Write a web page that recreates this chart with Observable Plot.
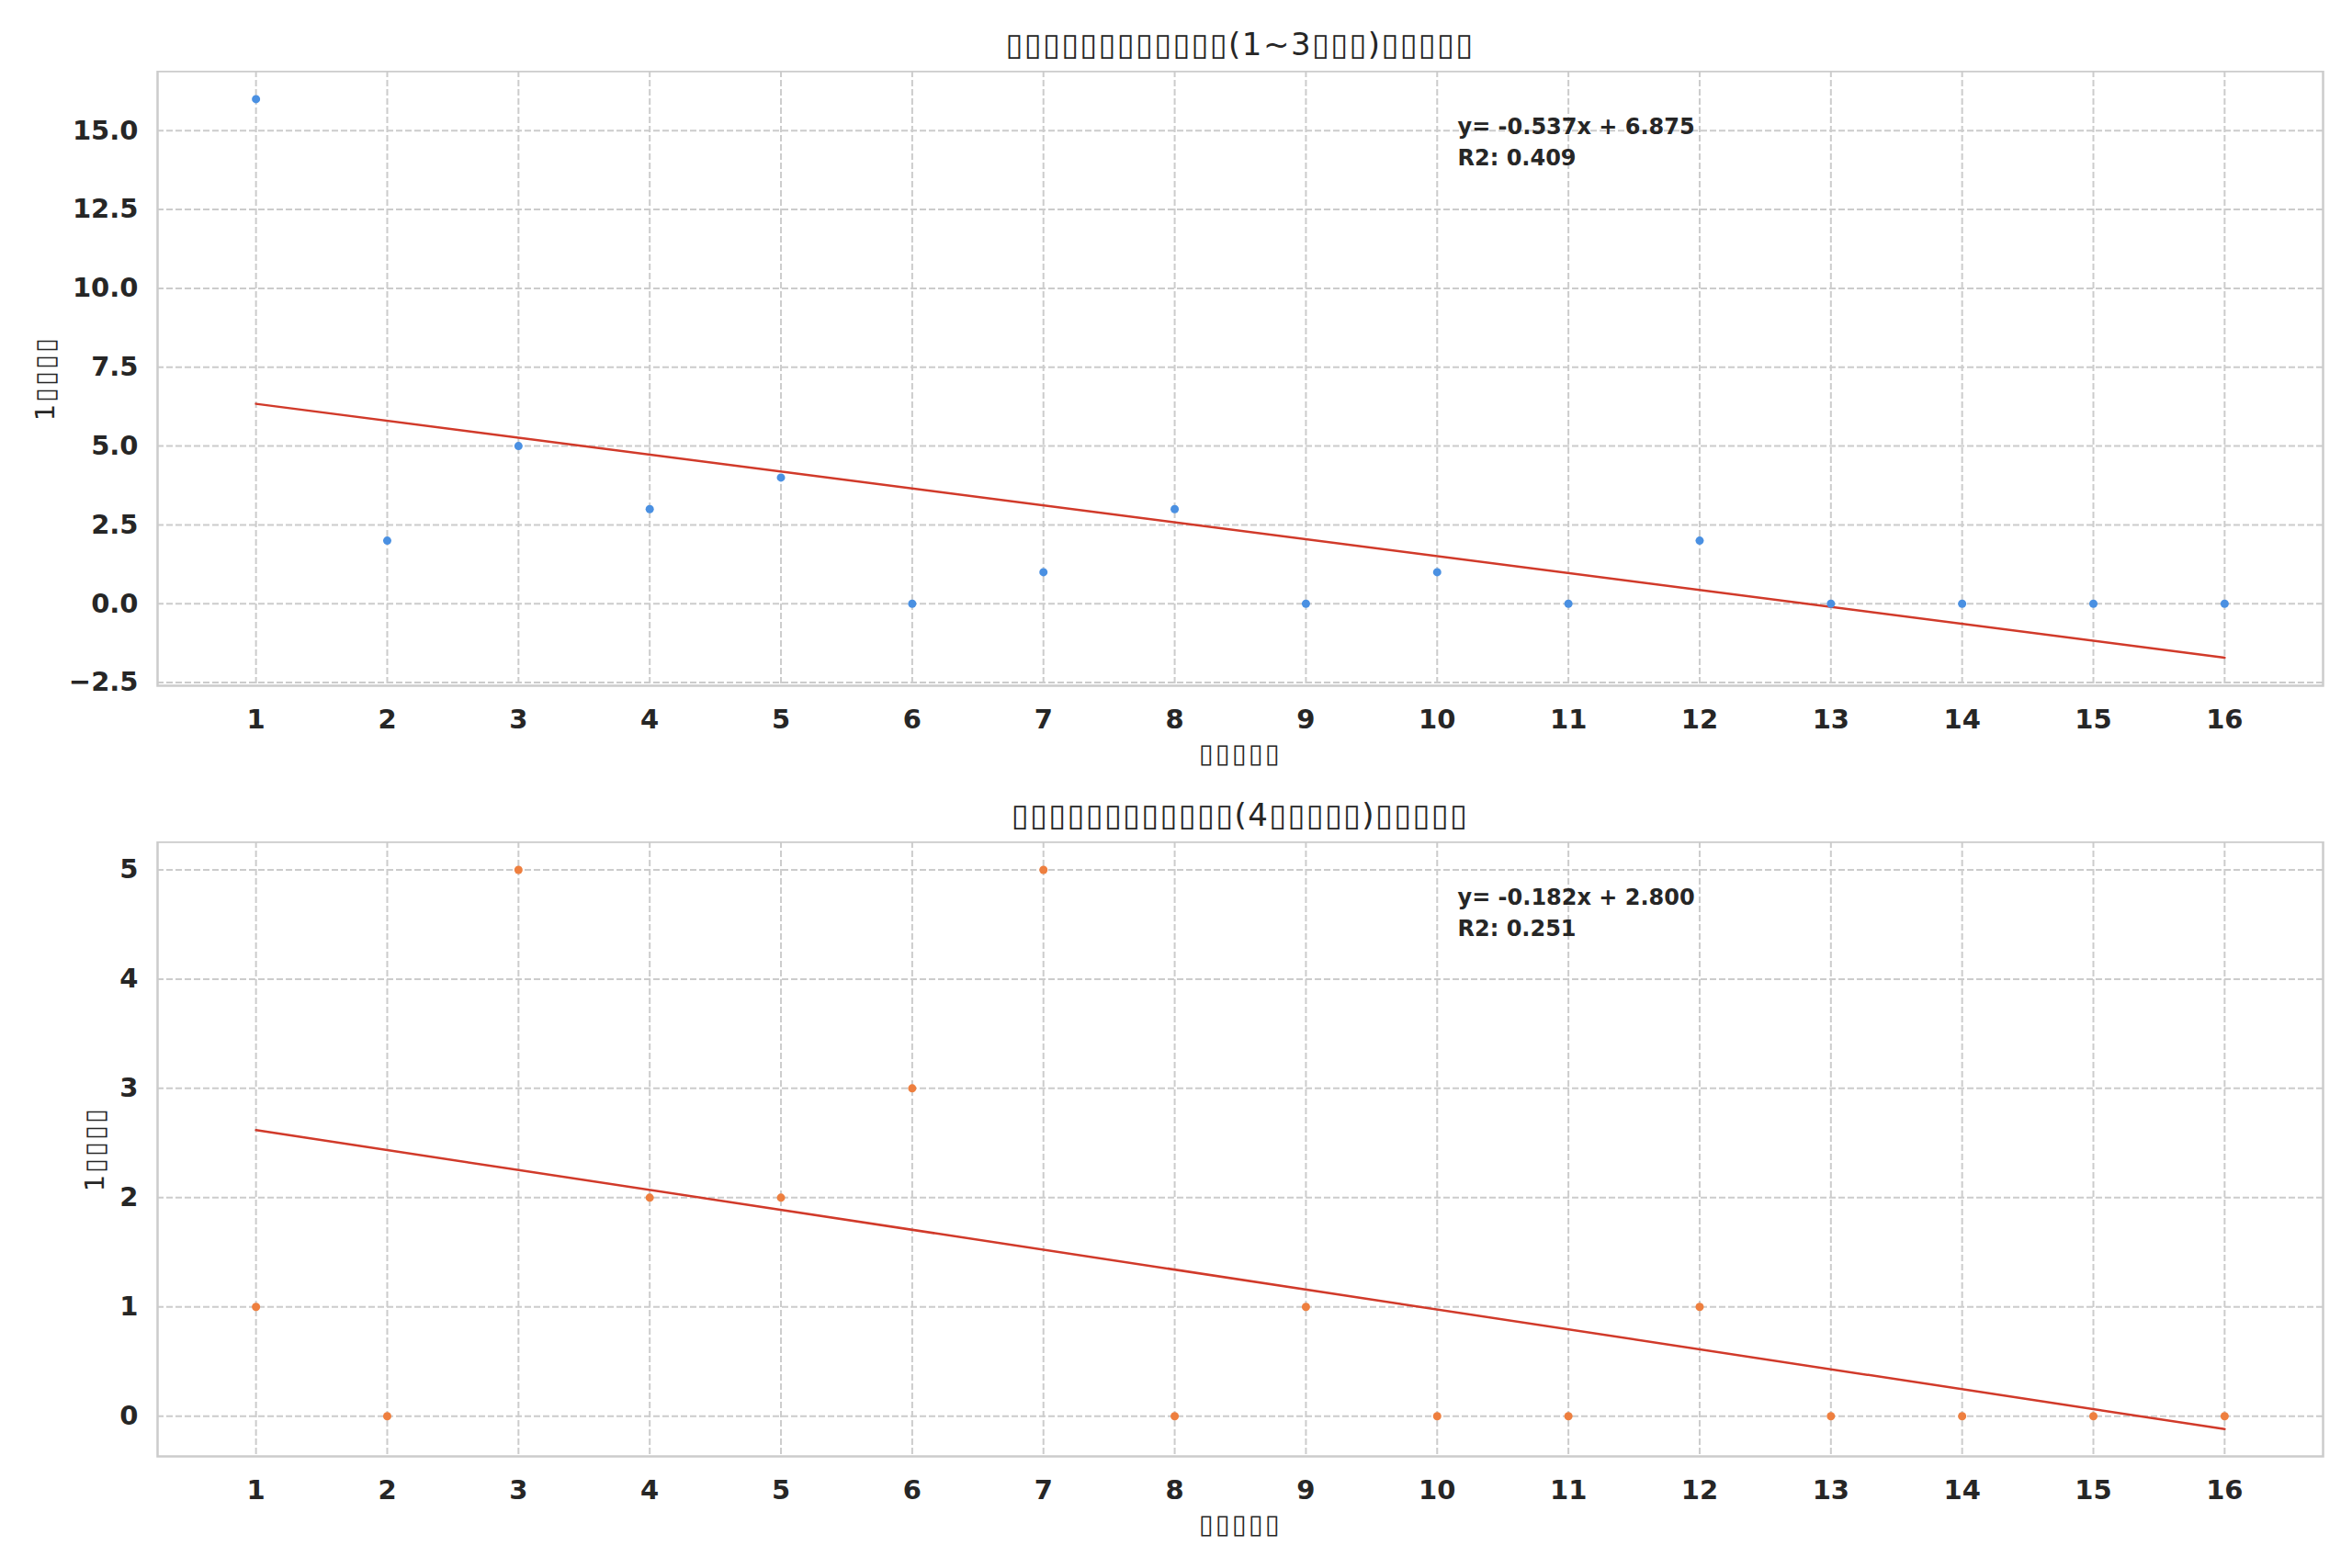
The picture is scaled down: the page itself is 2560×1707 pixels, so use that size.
<!DOCTYPE html>
<html>
<head>
<meta charset="utf-8">
<script src="https://cdn.jsdelivr.net/npm/d3@7"></script>
<script src="https://cdn.jsdelivr.net/npm/@observablehq/plot@0.6"></script>
<style>
  html, body { margin: 0; padding: 0; background: #ffffff; }
  #page { position: relative; width: 2560px; height: 1707px; font-family: "DejaVu Sans", sans-serif; color: #262626; }
  .title { position: absolute; left: 171px; width: 2357px; text-align: center; font-size: 34px; line-height: 34px; letter-spacing: 1.5px; white-space: nowrap; }
  .panel { position: absolute; left: 0; }
  .axlab text { letter-spacing: 2px; }
</style>
</head>
<body>
<div id="page"></div>
<script>
// ---- data ----
const titles = [
  "▯▯▯▯▯▯▯▯▯▯▯▯(1~3▯▯▯)▯▯▯▯▯",
  "▯▯▯▯▯▯▯▯▯▯▯▯(4▯▯▯▯▯)▯▯▯▯▯"
];
const xLabel = "▯▯▯▯▯";
const yLabel = "1▯▯▯▯";
const xTicks = [1, 2, 3, 4, 5, 6, 7, 8, 9, 10, 11, 12, 13, 14, 15, 16];
const order = [1, 2, 3, 4, 5, 6, 7, 8, 9, 10, 11, 12, 13, 14, 15, 16];
const topCounts = [16, 2, 5, 3, 4, 0, 1, 3, 0, 1, 0, 2, 0, 0, 0, 0];
const bottomCounts = [1, 0, 5, 2, 2, 3, 5, 0, 1, 0, 0, 1, 0, 0, 0, 0];
const topYTicks = [-2.5, 0, 2.5, 5, 7.5, 10, 12.5, 15];
const bottomYTicks = [0, 1, 2, 3, 4, 5];
const equations = ["y= -0.537x + 6.875", "y= -0.182x + 2.800"];
const r2Labels = ["R2: 0.409", "R2: 0.251"];

const page = document.getElementById("page");

function panel({counts, yTicks, yDomain, yFormat, color, eq, r2, labelDx, top, titleTop, title}) {
  const t = document.createElement("div");
  t.className = "title";
  t.style.top = titleTop + "px";
  t.textContent = title;
  page.appendChild(t);

  const data = order.map((x, i) => ({x, y: counts[i]}));
  const frameH = 669;
  const chart = Plot.plot({
    width: 2560,
    height: frameH + 110,
    marginTop: 0,
    marginBottom: 110,
    marginLeft: 171,
    marginRight: 32,
    style: {fontFamily: "DejaVu Sans", fontSize: "29px", fontWeight: "bold", color: "#262626", background: "#ffffff"},
    x: {domain: [0.25, 16.75]},
    y: {domain: yDomain},
    marks: [
      Plot.gridX(xTicks, {stroke: "#cccccc", strokeOpacity: 1, strokeWidth: 2, strokeDasharray: "7,3"}),
      Plot.gridY(yTicks, {stroke: "#cccccc", strokeOpacity: 1, strokeWidth: 2, strokeDasharray: "7,3"}),
      Plot.frame({stroke: "#cccccc", strokeWidth: 2.5}),
      Plot.axisX({ticks: xTicks, tickSize: 0, tickPadding: 26, label: null, tickFormat: d3.format("d")}),
      Plot.axisY({ticks: yTicks, tickSize: 0, tickPadding: 21, label: null, tickFormat: yFormat}),
      Plot.text([xLabel], {frameAnchor: "bottom", dy: 74, lineAnchor: "middle", fontWeight: "normal", fontSize: 29, className: "axlab"}),
      Plot.text([yLabel], {frameAnchor: "left", dx: labelDx, rotate: -90, lineAnchor: "middle", textAnchor: "middle", fontWeight: "normal", fontSize: 29, className: "axlab"}),
      Plot.linearRegressionY(data, {x: "x", y: "y", stroke: "#d13a2a", strokeWidth: 2.5, ci: 0}),
      Plot.dot(data, {x: "x", y: "y", r: 4.5, fill: color, stroke: "none"}),
      Plot.text([eq + "\n" + r2], {frameAnchor: "top-left", dx: 1415, dy: 45, lineAnchor: "top", textAnchor: "start", lineHeight: 1.4, fontSize: 24, fontWeight: "bold", fill: "#262626"})
    ]
  });
  chart.classList.add("panel");
  chart.style.top = top + "px";
  page.appendChild(chart);
}

panel({counts: topCounts, yTicks: topYTicks, yDomain: [-2.6, 16.886], yFormat: d3.format(".1f"),
  color: "#4a90e2", eq: equations[0], r2: r2Labels[0], labelDx: -122, top: 77, titleTop: 31, title: titles[0]});
panel({counts: bottomCounts, yTicks: bottomYTicks, yDomain: [-0.368, 5.256], yFormat: d3.format("d"),
  color: "#ee7f3f", eq: equations[1], r2: r2Labels[1], labelDx: -68, top: 916, titleTop: 870, title: titles[1]});
</script>
</body>
</html>
